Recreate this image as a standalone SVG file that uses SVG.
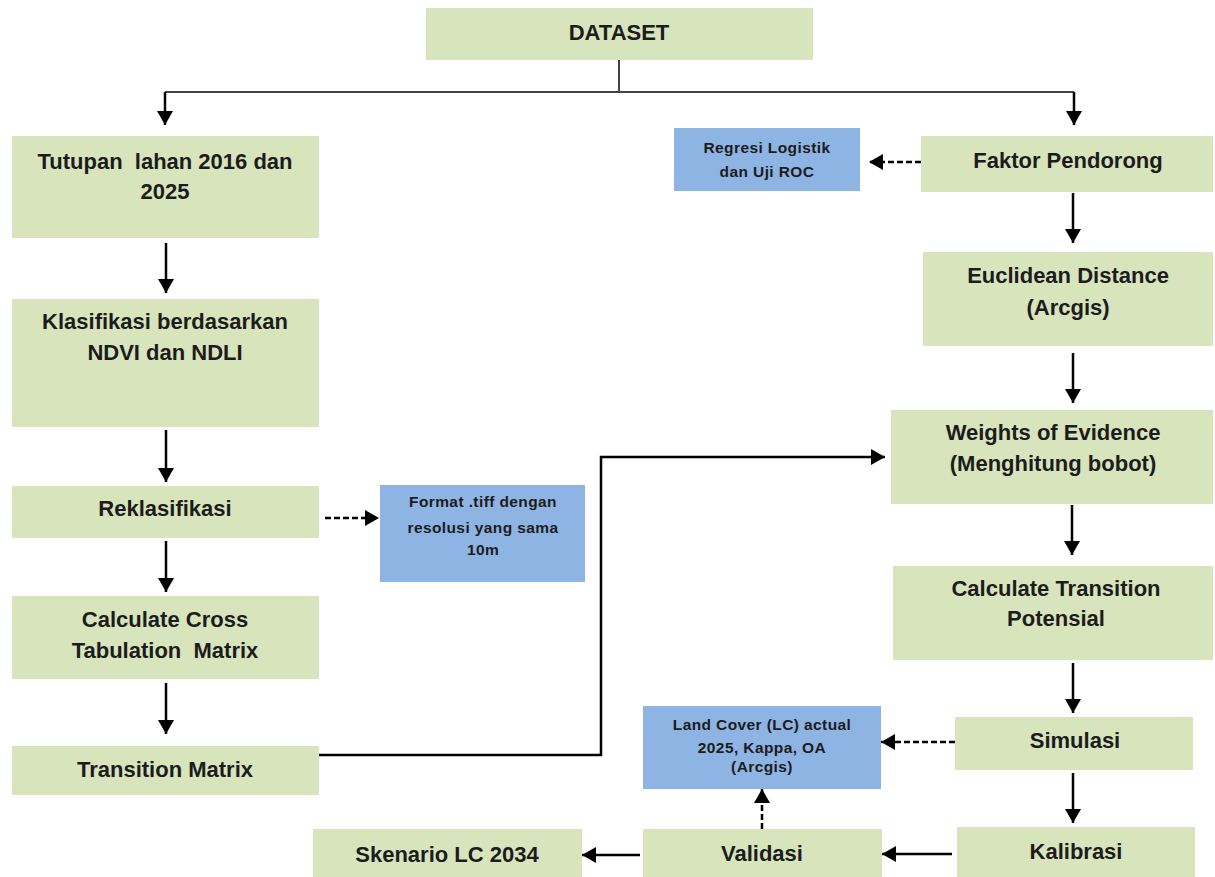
<svg xmlns="http://www.w3.org/2000/svg" width="1215" height="877" viewBox="0 0 1215 877">
<style>
.g{fill:#D8E4BC;}
.b{fill:#8EB4E3;}
.t{font-family:"Liberation Sans",Arial,sans-serif;font-weight:bold;font-size:22px;fill:#1c1c1c;text-anchor:middle;}
.s{font-family:"Liberation Sans",Arial,sans-serif;font-weight:bold;font-size:15.5px;letter-spacing:0.4px;fill:#1c1c1c;text-anchor:middle;}
.c{fill:none;stroke:#000;stroke-width:2.5;}
.d{fill:none;stroke:#000;stroke-width:2.5;stroke-dasharray:6,3;}
.top{fill:none;stroke:#444;stroke-width:2;}
</style>
<defs>
<marker id="ah" markerUnits="userSpaceOnUse" markerWidth="16" markerHeight="16" viewBox="0 0 16 16" refX="14" refY="8" orient="auto">
<path d="M0,0 L14,8 L0,16 Z" fill="#000"/>
</marker>
</defs>
<g id="n-dataset"><rect class="g" x="426" y="8" width="387" height="52"/><text class="t" x="619" y="40">DATASET</text></g>
<g id="n-tutupan"><rect class="g" x="12" y="136" width="307" height="102"/><text class="t" x="165" y="169" xml:space="preserve">Tutupan  lahan 2016 dan</text><text class="t" x="165" y="199">2025</text></g>
<g id="n-klasifikasi"><rect class="g" x="12" y="299" width="307" height="128"/><text class="t" x="165" y="329">Klasifikasi berdasarkan</text><text class="t" x="165" y="360">NDVI dan NDLI</text></g>
<g id="n-reklasifikasi"><rect class="g" x="12" y="486" width="307" height="52"/><text class="t" x="165" y="516">Reklasifikasi</text></g>
<g id="n-cross"><rect class="g" x="12" y="596" width="307" height="83"/><text class="t" x="165" y="627">Calculate Cross</text><text class="t" x="165" y="658" xml:space="preserve">Tabulation  Matrix</text></g>
<g id="n-transition-matrix"><rect class="g" x="12" y="746" width="307" height="49"/><text class="t" x="165" y="777">Transition Matrix</text></g>
<g id="n-format"><rect class="b" x="380" y="485" width="205" height="97"/><text class="s" x="483" y="507">Format .tiff dengan</text><text class="s" x="483" y="533">resolusi yang sama</text><text class="s" x="483" y="555">10m</text></g>
<g id="n-regresi"><rect class="b" x="674" y="128" width="186" height="63"/><text class="s" x="767" y="153">Regresi Logistik</text><text class="s" x="767" y="177">dan Uji ROC</text></g>
<g id="n-faktor"><rect class="g" x="921" y="136" width="292" height="56"/><text class="t" x="1068" y="168">Faktor Pendorong</text></g>
<g id="n-euclidean"><rect class="g" x="923" y="252" width="290" height="94"/><text class="t" x="1068" y="283">Euclidean Distance</text><text class="t" x="1068" y="315">(Arcgis)</text></g>
<g id="n-weights"><rect class="g" x="891" y="410" width="322" height="94"/><text class="t" x="1053" y="440">Weights of Evidence</text><text class="t" x="1053" y="471">(Menghitung bobot)</text></g>
<g id="n-potensial"><rect class="g" x="893" y="566" width="320" height="94"/><text class="t" x="1056" y="596">Calculate Transition</text><text class="t" x="1056" y="626">Potensial</text></g>
<g id="n-simulasi"><rect class="g" x="955" y="717" width="238" height="53"/><text class="t" x="1075" y="748">Simulasi</text></g>
<g id="n-kalibrasi"><rect class="g" x="957" y="827" width="238" height="50"/><text class="t" x="1076" y="859">Kalibrasi</text></g>
<g id="n-landcover"><rect class="b" x="643" y="706" width="238" height="83"/><text class="s" x="762" y="730">Land Cover (LC) actual</text><text class="s" x="762" y="753">2025, Kappa, OA</text><text class="s" x="762" y="772">(Arcgis)</text></g>
<g id="n-validasi"><rect class="g" x="643" y="829" width="239" height="48"/><text class="t" x="762" y="861">Validasi</text></g>
<g id="n-skenario"><rect class="g" x="313" y="829" width="269" height="48"/><text class="t" x="447" y="862">Skenario LC 2034</text></g>
<g id="connectors">
<path class="top" d="M619,60 V92 M165,92 H1074"/>
<path class="c" d="M165,92 V125" marker-end="url(#ah)"/>
<path class="c" d="M1074,92 V125" marker-end="url(#ah)"/>
<path class="c" d="M166,243 V293" marker-end="url(#ah)"/>
<path class="c" d="M166,430 V482" marker-end="url(#ah)"/>
<path class="c" d="M166,541 V592" marker-end="url(#ah)"/>
<path class="c" d="M166,683 V734" marker-end="url(#ah)"/>
<path class="d" d="M325,518 H379" marker-end="url(#ah)"/>
<path class="c" d="M319,755 H601 V457 H885" marker-end="url(#ah)"/>
<path class="d" d="M921,162 H869" marker-end="url(#ah)"/>
<path class="c" d="M1073,193 V243" marker-end="url(#ah)"/>
<path class="c" d="M1073,353 V403" marker-end="url(#ah)"/>
<path class="c" d="M1072,505 V555" marker-end="url(#ah)"/>
<path class="c" d="M1073,663 V713" marker-end="url(#ah)"/>
<path class="c" d="M1073,773 V823" marker-end="url(#ah)"/>
<path class="d" d="M955,742 H881" marker-end="url(#ah)"/>
<path class="d" d="M762,829 V789" marker-end="url(#ah)"/>
<path class="c" d="M952,854 H882" marker-end="url(#ah)"/>
<path class="c" d="M640,855 H582" marker-end="url(#ah)"/>
</g>
</svg>
